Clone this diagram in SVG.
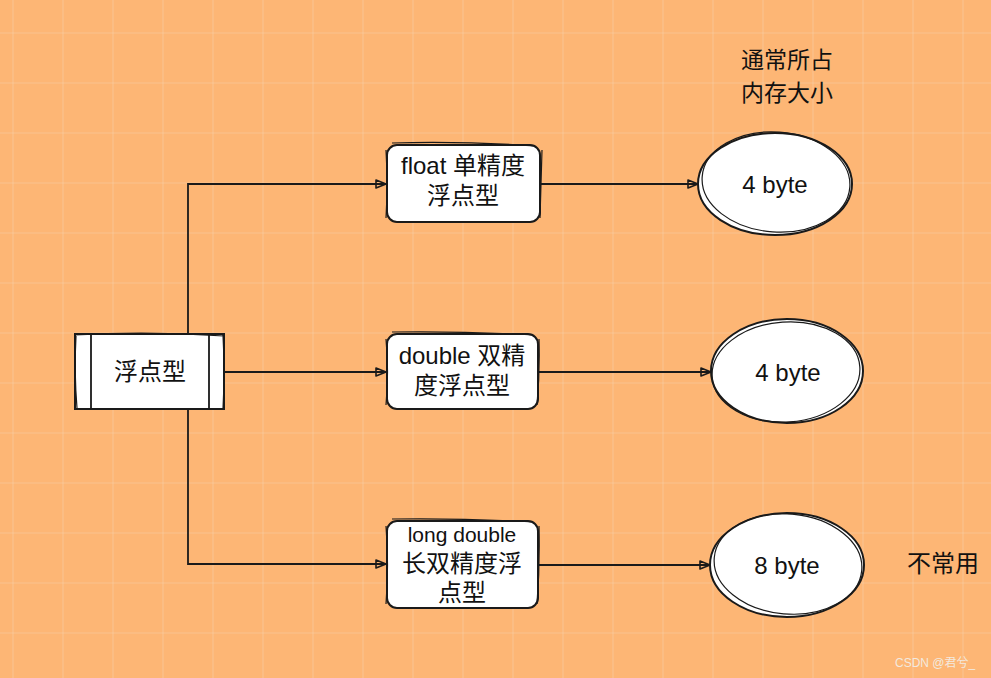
<svg xmlns="http://www.w3.org/2000/svg" width="991" height="678" viewBox="0 0 991 678">
  <defs>
    <pattern id="grid" x="12.5" y="32.5" width="50" height="50" patternUnits="userSpaceOnUse">
      <path d="M0,0 L50,0 M0,0 L0,50" fill="none" stroke="#f6cfa8" stroke-width="1.2"/>
    </pattern>
    <marker id="arr" markerWidth="14" markerHeight="12" refX="11" refY="5" orient="auto" markerUnits="userSpaceOnUse">
      <path d="M1,1 L11,5 L1,9 Z" fill="none" stroke="#1a1a1a" stroke-width="1.6" stroke-linejoin="round"/>
    </marker>
    <style>
      .bg { fill: #fdb675; }
      .box { fill: #ffffff; stroke: #1a1a1a; stroke-width: 2; }
      .sk { fill: none; stroke: #1a1a1a; stroke-width: 1.2; }
      .con { fill: none; stroke: #1a1a1a; stroke-width: 1.8; }
      .t { font-family: "Liberation Sans", "Noto Sans CJK SC", sans-serif; font-size: 24px; fill: #111111; text-anchor: middle; }
      .lbl { font-family: "Noto Sans CJK SC", "Liberation Sans", sans-serif; font-size: 23px; fill: #111111; text-anchor: middle; }
      .wm { font-family: "Liberation Sans", "Noto Sans CJK SC", sans-serif; font-size: 12px; fill: #f3e9df; text-anchor: start; }
    </style>
  </defs>

  <rect class="bg" x="0" y="0" width="991" height="678"/>
  <rect x="0" y="0" width="991" height="678" fill="url(#grid)"/>

  <g id="connectors">
    <path class="con" d="M188,334 L188,184 L386,184" marker-end="url(#arr)"/>
    <path class="con" d="M224,372 L386,372" marker-end="url(#arr)"/>
    <path class="con" d="M188,409 L188,564 L386,564" marker-end="url(#arr)"/>
    <path class="con" d="M540,184 L698,184" marker-end="url(#arr)"/>
    <path class="con" d="M538,372 L711,372" marker-end="url(#arr)"/>
    <path class="con" d="M538,565 L710,565" marker-end="url(#arr)"/>
  </g>

  <g id="root">
    <rect class="box" x="75" y="334" width="149" height="75"/>
    <path class="sk" d="M76,336 Q74,372 77,408 M74,335 Q150,331 224,336 M223,335 Q225,372 223,409"/>
    <path class="con" d="M91,334 L91,409 M209,334 L209,409"/>
    <text class="lbl" x="150" y="380" style="font-size:24px">浮点型</text>
  </g>

  <g id="float">
    <rect class="box" x="387" y="145" width="153" height="77" rx="10"/>
    <path class="sk" d="M392,143 Q463,141 535,146 M542,150 Q541,184 540,218 M386,150 Q388,184 386,218"/>
    <text class="t" x="463" y="174">float 单精度</text>
    <text class="t" x="463" y="204">浮点型</text>
  </g>

  <g id="double">
    <rect class="box" x="387" y="334" width="151" height="75" rx="10"/>
    <path class="sk" d="M392,332 Q462,331 533,335 M539,339 Q540,372 537,405 M386,339 Q389,372 386,405"/>
    <text class="t" x="462" y="364">double 双精</text>
    <text class="t" x="462" y="394">度浮点型</text>
  </g>

  <g id="longdouble">
    <rect class="box" x="387" y="521" width="151" height="87" rx="10"/>
    <path class="sk" d="M392,519 Q462,518 533,522 M539,526 Q540,565 537,604 M386,526 Q389,565 386,604"/>
    <text class="t" x="462" y="542" style="font-size:21px">long double</text>
    <text class="t" x="462" y="572">长双精度浮</text>
    <text class="t" x="462" y="601">点型</text>
  </g>

  <g id="size1">
    <ellipse class="box" cx="775" cy="184" rx="77" ry="51"/>
    <ellipse class="sk" cx="776" cy="182" rx="74" ry="50" transform="rotate(4 776 182)"/>
    <text class="t" x="775" y="193">4 byte</text>
  </g>

  <g id="size2">
    <ellipse class="box" cx="787" cy="371" rx="76" ry="52"/>
    <ellipse class="sk" cx="786" cy="372" rx="74" ry="50" transform="rotate(-4 786 372)"/>
    <text class="t" x="788" y="381">4 byte</text>
  </g>

  <g id="size3">
    <ellipse class="box" cx="787" cy="565" rx="77" ry="52"/>
    <ellipse class="sk" cx="788" cy="564" rx="74" ry="50" transform="rotate(5 788 564)"/>
    <text class="t" x="787" y="574">8 byte</text>
  </g>

  <g id="header">
    <text class="lbl" x="787" y="68">通常所占</text>
    <text class="lbl" x="787" y="101">内存大小</text>
  </g>

  <g id="note">
    <text class="lbl" x="943" y="572" style="font-size:24px">不常用</text>
  </g>

  <text class="wm" x="895" y="667">CSDN @君兮_</text>
</svg>
